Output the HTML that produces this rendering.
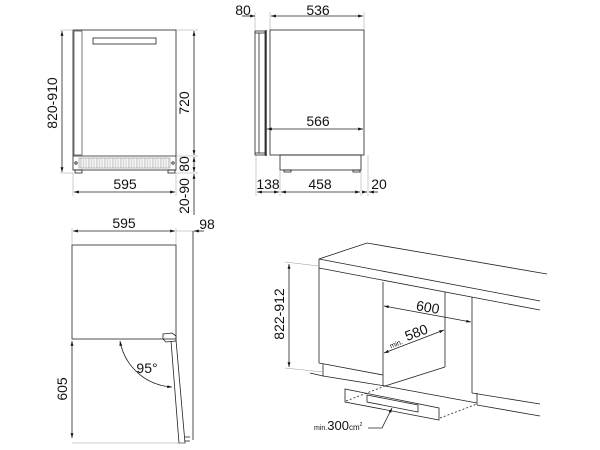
<!DOCTYPE html>
<html><head><meta charset="utf-8"><style>
html,body{margin:0;padding:0;background:#fff;}
svg{display:block;}
text{font-family:"Liberation Sans",sans-serif;fill:#111;}
</style></head><body>
<svg width="600" height="450" viewBox="0 0 600 450" xmlns="http://www.w3.org/2000/svg">
<defs>
<marker id="a" viewBox="0 0 10 10" refX="10" refY="5" markerWidth="6" markerHeight="6" orient="auto-start-reverse"><path d="M0,2 L10,5 L0,8 z" fill="#111"/></marker>
<pattern id="g" width="1.6" height="4" patternUnits="userSpaceOnUse"><rect width="0.6" height="4" fill="#bbb"/></pattern>
</defs>
<g stroke="#222" stroke-width="0.8" fill="none">
<!-- FRONT VIEW -->
<rect x="73" y="30" width="103" height="140" fill="#fff"/>
<line x1="73" y1="156" x2="176" y2="156"/>
<rect x="74" y="31" width="8" height="124" stroke="#555"/>
<rect x="93" y="38" width="63" height="6"/>
<rect x="79" y="158" width="91" height="10" fill="url(#g)" stroke="#aaa"/>
<circle cx="76" cy="163" r="1.2"/><circle cx="173" cy="163" r="1.2"/>
<rect x="75" y="170" width="7" height="3"/><rect x="168" y="170" width="7" height="3"/>
<g stroke="#999" stroke-width="0.5">
<line x1="60" y1="30" x2="73" y2="30"/><line x1="176" y1="30" x2="198" y2="30"/>
<line x1="176" y1="156" x2="198" y2="156"/><line x1="176" y1="173" x2="198" y2="173"/>
<line x1="60" y1="173" x2="73" y2="173"/>
<line x1="73" y1="173" x2="73" y2="196"/><line x1="176" y1="173" x2="176" y2="196"/>
</g>
<line x1="62" y1="31" x2="62" y2="172" marker-start="url(#a)" marker-end="url(#a)"/>
<line x1="194" y1="31" x2="194" y2="155" marker-start="url(#a)" marker-end="url(#a)"/>
<line x1="194" y1="157" x2="194" y2="172" marker-start="url(#a)" marker-end="url(#a)"/>
<line x1="194" y1="174" x2="194" y2="215" marker-start="url(#a)"/>
<line x1="74" y1="192" x2="175" y2="192" marker-start="url(#a)" marker-end="url(#a)"/>

<!-- SIDE VIEW -->
<rect x="270" y="30" width="94" height="125" fill="#fff"/>
<rect x="255" y="31" width="10" height="124"/>
<line x1="255" y1="33" x2="265" y2="33"/><line x1="255" y1="153" x2="265" y2="153"/>
<line x1="259" y1="33" x2="259" y2="153"/>
<line x1="266" y1="30" x2="266" y2="156" stroke-width="1.4"/>
<rect x="280" y="155" width="81" height="15"/>
<rect x="284" y="170" width="7" height="2"/><rect x="353" y="170" width="7" height="2"/>
<g stroke="#999" stroke-width="0.5">
<line x1="255" y1="12" x2="255" y2="31"/><line x1="270" y1="12" x2="270" y2="30"/><line x1="364" y1="12" x2="364" y2="30"/>
<line x1="256" y1="155" x2="256" y2="196"/><line x1="280" y1="170" x2="280" y2="196"/><line x1="361" y1="170" x2="361" y2="196"/><line x1="368" y1="155" x2="368" y2="196"/>
</g>
<line x1="242" y1="16" x2="255" y2="16" marker-end="url(#a)"/>
<line x1="271" y1="16" x2="363" y2="16" marker-start="url(#a)" marker-end="url(#a)"/>
<line x1="267" y1="129" x2="363" y2="129" marker-start="url(#a)" marker-end="url(#a)"/>
<line x1="257" y1="192" x2="279" y2="192" marker-start="url(#a)" marker-end="url(#a)"/>
<line x1="281" y1="192" x2="360" y2="192" marker-start="url(#a)" marker-end="url(#a)"/>
<line x1="362" y1="192" x2="367" y2="192" marker-end="url(#a)"/>
<line x1="378" y1="192" x2="369" y2="192" marker-end="url(#a)"/>

<!-- TOP VIEW -->
<rect x="72" y="245" width="104" height="94" fill="#fff"/>
<path d="M163,334 L172,333 L176,336 L176,341 L166,342 L163,339 Z"/>
<path d="M171,341 L179,443 L185,443 L176,340"/>
<line x1="185" y1="437" x2="190" y2="437"/><line x1="185" y1="441" x2="190" y2="441"/>
<g stroke="#999" stroke-width="0.5">
<line x1="72" y1="228" x2="72" y2="245"/><line x1="176" y1="228" x2="176" y2="245"/>
<line x1="176" y1="231" x2="200" y2="231"/><line x1="72" y1="443" x2="185" y2="443"/>
</g>
<line x1="193" y1="231" x2="193" y2="440"/>
<line x1="73" y1="231" x2="175" y2="231" marker-start="url(#a)" marker-end="url(#a)"/>
<line x1="204" y1="231" x2="194" y2="231" marker-end="url(#a)"/>
<line x1="72" y1="341" x2="72" y2="438" marker-start="url(#a)" marker-end="url(#a)"/>
<path d="M120,341 A56,56 0 0 0 172,387" marker-start="url(#a)" marker-end="url(#a)"/>

<!-- ISOMETRIC -->
<path d="M319,259 L367,243 L547,274"/>
<line x1="319" y1="259" x2="540" y2="301"/>
<line x1="319" y1="268" x2="540" y2="310"/>
<line x1="319" y1="259" x2="319" y2="363"/>
<line x1="319" y1="363" x2="383" y2="375"/>
<line x1="323" y1="364" x2="323" y2="376"/>
<line x1="323" y1="376" x2="385" y2="386"/>
<line x1="383" y1="282" x2="383" y2="386"/>
<line x1="445" y1="292" x2="445" y2="367"/>
<line x1="385" y1="386" x2="445" y2="367"/>
<line x1="310" y1="373" x2="323" y2="376"/>
<line x1="385" y1="386" x2="477" y2="403"/>
<line x1="472" y1="297" x2="472" y2="393"/>
<line x1="472" y1="393" x2="540" y2="404"/>
<line x1="477" y1="393" x2="477" y2="405"/>
<line x1="477" y1="405" x2="540" y2="416"/>
<path d="M345,389 L345,402 L439,420 L439,408 Z" fill="#fff"/>
<path d="M367,395 L418,405 L418,412 L367,402 Z"/>
<g stroke-dasharray="2,2"><line x1="346" y1="401" x2="385" y2="386"/><line x1="440" y1="418" x2="477" y2="404"/></g>
<g stroke="#999" stroke-width="0.5"><line x1="285" y1="262" x2="319" y2="266"/><line x1="285" y1="368" x2="323" y2="372"/></g>
<line x1="289" y1="264" x2="289" y2="367" marker-start="url(#a)" marker-end="url(#a)"/>
<line x1="384" y1="306" x2="471" y2="322" marker-start="url(#a)" marker-end="url(#a)"/>
<line x1="384" y1="353" x2="444" y2="330" marker-start="url(#a)" marker-end="url(#a)"/>
<path d="M368,428 L382,428 L392,408" marker-end="url(#a)"/>
</g>
<!-- TEXT -->
<g font-size="14">
<text x="125" y="189" text-anchor="middle">595</text>
<text transform="translate(57,103) rotate(-90)" text-anchor="middle">820-910</text>
<text transform="translate(189,103) rotate(-90)" text-anchor="middle">720</text>
<text transform="translate(189,164) rotate(-90)" text-anchor="middle">80</text>
<text transform="translate(189,196) rotate(-90)" text-anchor="middle">20-90</text>
<text x="243" y="15" text-anchor="middle">80</text>
<text x="318" y="15" text-anchor="middle">536</text>
<text x="318" y="126" text-anchor="middle">566</text>
<text x="268" y="189" text-anchor="middle">138</text>
<text x="320" y="189" text-anchor="middle">458</text>
<text x="379" y="189" text-anchor="middle">20</text>
<text x="124" y="228" text-anchor="middle">595</text>
<text x="207" y="229" text-anchor="middle">98</text>
<text transform="translate(67,389) rotate(-90)" text-anchor="middle">605</text>
<text x="147" y="373" text-anchor="middle">95°</text>
<text transform="translate(284,314) rotate(-90)" text-anchor="middle">822-912</text>
<text transform="translate(427,312) rotate(10)" text-anchor="middle">600</text>
<text transform="translate(418,337) rotate(-21)" text-anchor="middle">580</text>
<text transform="translate(397,346) rotate(-21)" text-anchor="middle" font-size="7">min.</text>
<text x="314" y="430" font-size="7">min.<tspan font-size="13">300</tspan><tspan font-size="8">cm</tspan><tspan font-size="5" dy="-4">2</tspan></text>
</g>
</svg>
</body></html>
